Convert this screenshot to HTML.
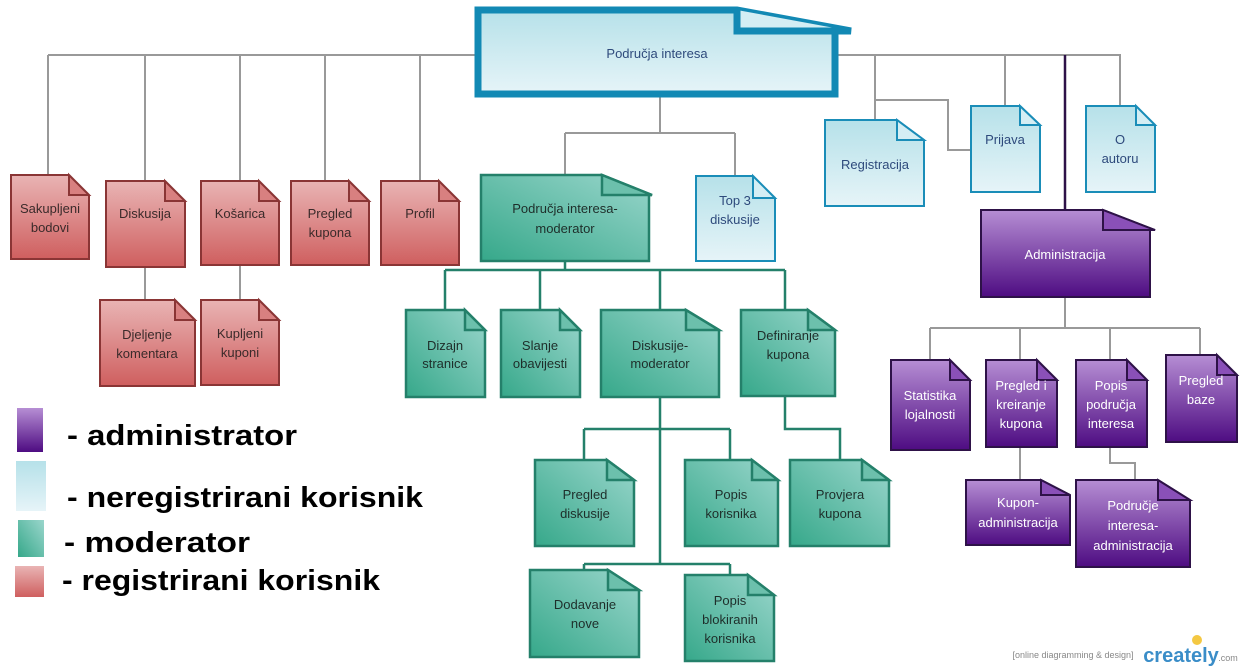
<!DOCTYPE html>
<html><head><meta charset="utf-8"><style>
html,body{margin:0;padding:0;background:#fff}
svg{display:block}
text{font-family:"Liberation Sans",sans-serif;font-size:13px;text-anchor:middle}
.r{fill:url(#gr);stroke:#8a3535;stroke-width:2}
.rf{fill:#d88080;stroke:#8a3535;stroke-width:2}
.t{fill:url(#gt);stroke:#24806a;stroke-width:2.5}
.tf{fill:#6cc0ac;stroke:#24806a;stroke-width:2.5}
.b{fill:url(#gb);stroke:#1a8db8;stroke-width:2}
.bf{fill:#d4eef4;stroke:#1a8db8;stroke-width:2}
.p{fill:url(#gp);stroke:#2e1248;stroke-width:2}
.pf{fill:#8a50b8;stroke:#2e1248;stroke-width:2}
.tr text,text.tr{fill:#3a2a2a}
.tt text{fill:#1e2e2a}
.tb text{fill:#2e4a7c}
.tp text{fill:#fff}
.g{stroke:#999;stroke-width:2;fill:none}
.gt{stroke:#24806a;stroke-width:2.5;fill:none}
.lg{font-family:"Liberation Sans",sans-serif;font-weight:bold;font-size:29px;text-anchor:start;fill:#000}
</style></head><body>
<svg width="1245" height="670" viewBox="0 0 1245 670" xmlns="http://www.w3.org/2000/svg">
<defs>
<linearGradient id="gr" x1="0" y1="0" x2="0" y2="1"><stop offset="0" stop-color="#e9b4b4"/><stop offset="1" stop-color="#cf5f5f"/></linearGradient>
<linearGradient id="gt" x1="1" y1="0" x2="0" y2="1"><stop offset="0" stop-color="#9ad6cc"/><stop offset="1" stop-color="#36a88a"/></linearGradient>
<linearGradient id="gb" x1="0" y1="0" x2="0" y2="1"><stop offset="0" stop-color="#b6e1e9"/><stop offset="1" stop-color="#e6f4f8"/></linearGradient>
<linearGradient id="gp" x1="0" y1="0" x2="0" y2="1"><stop offset="0" stop-color="#b68ed4"/><stop offset="1" stop-color="#4e0c82"/></linearGradient>
</defs>

<!-- gray connectors -->
<path class="g" d="M48,55H478M48,55V175M145,55V181M240,55V181M325,55V181M420,55V181"/>
<path class="g" d="M835,55H1120V106M875,55V120M875,100H948V150H971M1005,55V106"/>
<path class="g" d="M660,97V133M565,133H735M565,133V175M735,133V176"/>
<path class="g" d="M145,267V300M240,265V300"/>
<path class="g" d="M1065,297V328M930,328H1200M930,328V360M1020,328V360M1110,328V360M1200,328V355M1020,447V480M1110,447V463H1135V480"/>
<path d="M1065,55V210" stroke="#2e1248" stroke-width="2.5" fill="none"/>
<!-- teal connectors -->
<path class="gt" d="M565,261V270M445,270H785M445,270V310M540,270V310M660,270V310M785,270V310"/>
<path class="gt" d="M660,397V564M584,429H730M584,429V460M730,429V460M785,396V429H840V460M584,564H730M584,564V570M730,564V575"/>

<!-- main node -->
<path d="M478,10H737L851,31H835V94H478Z" fill="url(#gb)" stroke="#1289b4" stroke-width="7" stroke-linejoin="miter"/>
<path d="M737,10V31H851" fill="#d4eef4" stroke="#1289b4" stroke-width="7"/>
<text x="657" y="58" fill="#2e4a7c">Područja interesa</text>

<!-- red -->
<g class="tr">
<path class="r" d="M11,175H69L89,195V259H11Z"/><path class="rf" d="M69,175V195H89Z"/>
<text x="50" y="213">Sakupljeni</text><text x="50" y="232">bodovi</text>
<path class="r" d="M106,181H165L185,201V267H106Z"/><path class="rf" d="M165,181V201H185Z"/>
<text x="145" y="218">Diskusija</text>
<path class="r" d="M201,181H259L279,201V265H201Z"/><path class="rf" d="M259,181V201H279Z"/>
<text x="240" y="218">Košarica</text>
<path class="r" d="M291,181H349L369,201V265H291Z"/><path class="rf" d="M349,181V201H369Z"/>
<text x="330" y="218">Pregled</text><text x="330" y="237">kupona</text>
<path class="r" d="M381,181H439L459,201V265H381Z"/><path class="rf" d="M439,181V201H459Z"/>
<text x="420" y="218">Profil</text>
<path class="r" d="M100,300H175L195,320V386H100Z"/><path class="rf" d="M175,300V320H195Z"/>
<text x="147" y="339">Djeljenje</text><text x="147" y="358">komentara</text>
<path class="r" d="M201,300H259L279,320V385H201Z"/><path class="rf" d="M259,300V320H279Z"/>
<text x="240" y="338">Kupljeni</text><text x="240" y="357">kuponi</text>
</g>

<!-- teal -->
<g class="tt">
<path class="t" d="M481,175H602L652,195H649V261H481Z" stroke-width="3.5"/><path class="tf" d="M602,175V195H652Z" stroke-width="3.5"/>
<text x="565" y="213">Područja interesa-</text><text x="565" y="233">moderator</text>
<path class="t" d="M406,310H465L485,330V397H406Z"/><path class="tf" d="M465,310V330H485Z"/>
<text x="445" y="350">Dizajn</text><text x="445" y="368">stranice</text>
<path class="t" d="M501,310H560L580,330V397H501Z"/><path class="tf" d="M560,310V330H580Z"/>
<text x="540" y="350">Slanje</text><text x="540" y="368">obavijesti</text>
<path class="t" d="M601,310H686L719,330V397H601Z"/><path class="tf" d="M686,310V330H719Z"/>
<text x="660" y="350">Diskusije-</text><text x="660" y="368">moderator</text>
<path class="t" d="M741,310H808L835,330V396H741Z"/><path class="tf" d="M808,310V330H835Z"/>
<text x="788" y="340">Definiranje</text><text x="788" y="359">kupona</text>
<path class="t" d="M535,460H607L634,480V546H535Z"/><path class="tf" d="M607,460V480H634Z"/>
<text x="585" y="499">Pregled</text><text x="585" y="518">diskusije</text>
<path class="t" d="M685,460H752L778,480V546H685Z"/><path class="tf" d="M752,460V480H778Z"/>
<text x="731" y="499">Popis</text><text x="731" y="518">korisnika</text>
<path class="t" d="M790,460H862L889,480V546H790Z"/><path class="tf" d="M862,460V480H889Z"/>
<text x="840" y="499">Provjera</text><text x="840" y="518">kupona</text>
<path class="t" d="M530,570H608L639,590V657H530Z"/><path class="tf" d="M608,570V590H639Z"/>
<text x="585" y="609">Dodavanje</text><text x="585" y="628">nove</text>
<path class="t" d="M685,575H748L774,595V661H685Z"/><path class="tf" d="M748,575V595H774Z"/>
<text x="730" y="605">Popis</text><text x="730" y="624">blokiranih</text><text x="730" y="643">korisnika</text>
</g>

<!-- light blue -->
<g class="tb">
<path class="b" d="M696,176H753L775,198V261H696Z"/><path class="bf" d="M753,176V198H775Z"/>
<text x="735" y="205">Top 3</text><text x="735" y="224">diskusije</text>
<path class="b" d="M825,120H897L924,140V206H825Z"/><path class="bf" d="M897,120V140H924Z"/>
<text x="875" y="169">Registracija</text>
<path class="b" d="M971,106H1020L1040,125V192H971Z"/><path class="bf" d="M1020,106V125H1040Z"/>
<text x="1005" y="144">Prijava</text>
<path class="b" d="M1086,106H1136L1155,125V192H1086Z"/><path class="bf" d="M1136,106V125H1155Z"/>
<text x="1120" y="144">O</text><text x="1120" y="163">autoru</text>
</g>

<!-- purple -->
<g class="tp">
<path class="p" d="M981,210H1103L1155,230H1150V297H981Z" stroke-width="3.5"/><path class="pf" d="M1103,210V230H1155Z" stroke-width="3.5"/>
<text x="1065" y="259">Administracija</text>
<path class="p" d="M891,360H950L970,380V450H891Z"/><path class="pf" d="M950,360V380H970Z"/>
<text x="930" y="400">Statistika</text><text x="930" y="419">lojalnosti</text>
<path class="p" d="M986,360H1037L1057,380V447H986Z"/><path class="pf" d="M1037,360V380H1057Z"/>
<text x="1021" y="390">Pregled i</text><text x="1021" y="409">kreiranje</text><text x="1021" y="428">kupona</text>
<path class="p" d="M1076,360H1127L1147,380V447H1076Z"/><path class="pf" d="M1127,360V380H1147Z"/>
<text x="1111" y="390">Popis</text><text x="1111" y="409">područja</text><text x="1111" y="428">interesa</text>
<path class="p" d="M1166,355H1217L1237,375V442H1166Z"/><path class="pf" d="M1217,355V375H1237Z"/>
<text x="1201" y="385">Pregled</text><text x="1201" y="404">baze</text>
<path class="p" d="M966,480H1041L1070,495V545H966Z"/><path class="pf" d="M1041,480V495H1070Z"/>
<text x="1018" y="507">Kupon-</text><text x="1018" y="527">administracija</text>
<path class="p" d="M1076,480H1158L1190,500V567H1076Z"/><path class="pf" d="M1158,480V500H1190Z"/>
<text x="1133" y="510">Područje</text><text x="1133" y="530">interesa-</text><text x="1133" y="550">administracija</text>
</g>

<!-- legend -->
<rect x="17" y="408" width="26" height="44" fill="url(#gp)"/>
<rect x="16" y="461" width="30" height="50" fill="url(#gb)"/>
<rect x="18" y="520" width="26" height="37" fill="url(#gt)"/>
<rect x="15" y="566" width="29" height="31" fill="url(#gr)"/>
<text class="lg" x="67" y="445" textLength="230" lengthAdjust="spacingAndGlyphs">- administrator</text>
<text class="lg" x="67" y="507" textLength="356" lengthAdjust="spacingAndGlyphs">- neregistrirani korisnik</text>
<text class="lg" x="64" y="552" textLength="186" lengthAdjust="spacingAndGlyphs">- moderator</text>
<text class="lg" x="62" y="590" textLength="318" lengthAdjust="spacingAndGlyphs">- registrirani korisnik</text>

<!-- footer -->
<text x="1073" y="658" style="font-size:9px;fill:#888">[online diagramming &amp; design]</text>
<text x="1181" y="662" style="font-size:20px;fill:#3a8dc8;font-weight:bold">creately</text>
<text x="1228" y="661" style="font-size:9px;fill:#888">.com</text>
<circle cx="1197" cy="640" r="5" fill="#f4c842"/>
</svg>
</body></html>
